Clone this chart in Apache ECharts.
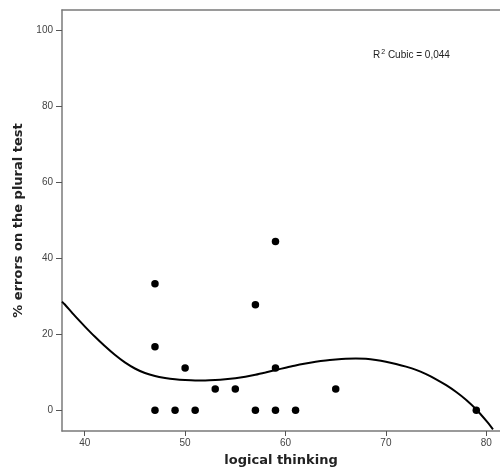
<!DOCTYPE html>
<html>
<head>
<meta charset="utf-8">
<script src="https://cdn.jsdelivr.net/npm/echarts@6/dist/echarts.min.js"></script>
<style>html,body{margin:0;padding:0;background:#fff;}#c{width:500px;height:475px;}</style>
</head>
<body>
<div id="c"></div>
<script>
// Tick labels
const xTicks = [40, 50, 60, 70, 80];
const yTicks = [0, 20, 40, 60, 80, 100];
// Observations
const logicalThinking = [47, 47, 47, 49, 50, 51, 53, 55, 57, 57, 59, 59, 59, 61, 65, 79];
const pluralErrors = [33.3, 16.7, 0, 0, 11.1, 0, 5.6, 5.6, 27.8, 0, 44.4, 11.1, 0, 0, 5.6, 0];
// Cubic fit curve
const fitX = [37.74, 38, 39, 40, 41, 42, 43, 44, 45, 46, 47, 48, 49, 50, 51, 52, 53, 54, 55, 56, 57, 58, 59, 60,
  61, 62, 63, 64, 65, 66, 67, 68, 69, 70, 71, 72, 73, 74, 75, 76, 77, 78, 79, 80, 80.66];
const fitY = [28.6, 27.9, 24.9, 22.1, 19.4, 16.9, 14.6, 12.6, 11.0, 9.8, 9.0, 8.5, 8.15, 7.95, 7.85, 7.85, 7.95, 8.15, 8.45, 8.85, 9.35, 9.95, 10.6, 11.2,
  11.8, 12.3, 12.75, 13.1, 13.35, 13.55, 13.65, 13.55, 13.25, 12.8, 12.2, 11.5, 10.65, 9.5, 8.15, 6.6, 4.8, 2.7, 0.2, -2.8, -5.0];
const fitLabel = 'R{sup|2} Cubic = 0,044';
const xName = 'logical thinking';
const yName = '% errors on the plural test';

const xMin = 37.74, xMax = 81.36, yMin = -5.45, yMax = 105.35;
const axisGray = '#7a7a7a';
const font = 'Liberation Sans';

const chart = echarts.init(document.getElementById('c'), null, {renderer: 'canvas'});
chart.setOption({
  animation: false,
  backgroundColor: '#fff',
  grid: {left: 62, right: 0, top: 10, bottom: 44, containLabel: false},
  xAxis: [{
    type: 'value', min: xMin, max: xMax, position: 'bottom',
    name: xName, nameLocation: 'middle', nameGap: 23,
    nameTextStyle: {fontFamily: 'DejaVu Sans', fontWeight: 'bold', fontSize: 13, color: '#222'},
    axisLine: {show: true, onZero: false, lineStyle: {color: axisGray, width: 1.5}},
    axisTick: {show: true, length: 5, customValues: xTicks, lineStyle: {color: '#555'}},
    axisLabel: {customValues: xTicks, margin: 7, fontFamily: font, fontSize: 10, color: '#444'},
    splitLine: {show: false}
  }, {
    type: 'value', min: xMin, max: xMax, position: 'top',
    axisLine: {show: true, onZero: false, lineStyle: {color: axisGray, width: 1.5}},
    axisTick: {show: false}, axisLabel: {show: false}, splitLine: {show: false}
  }],
  yAxis: {
    type: 'value', min: yMin, max: yMax,
    name: yName, nameLocation: 'middle', nameGap: 35, nameRotate: 90,
    nameTextStyle: {fontFamily: 'DejaVu Sans', fontWeight: 'bold', fontSize: 13, color: '#222'},
    axisLine: {show: true, onZero: false, lineStyle: {color: axisGray, width: 1.5}},
    axisTick: {show: true, length: 6, customValues: yTicks, lineStyle: {color: '#555'}},
    axisLabel: {customValues: yTicks, margin: 9, fontFamily: font, fontSize: 10, color: '#444'},
    splitLine: {show: false}
  },
  graphic: [{
    type: 'text', left: 373, top: 49,
    style: {
      text: fitLabel,
      rich: {sup: {fontSize: 7, verticalAlign: 'top', padding: [0, 0, 6, 1], fontFamily: font, fill: '#222'}},
      fontFamily: font, fontSize: 10, fill: '#222'
    }
  }],
  series: [{
    type: 'line', xAxisIndex: 0,
    data: fitX.map((x, i) => [x, fitY[i]]),
    showSymbol: false, smooth: 0.25, clip: true,
    lineStyle: {color: '#000', width: 2}
  }, {
    type: 'scatter', xAxisIndex: 0,
    data: logicalThinking.map((x, i) => [x, pluralErrors[i]]),
    symbol: 'circle', symbolSize: 7.5,
    itemStyle: {color: '#000', opacity: 1}
  }]
});
</script>
</body>
</html>
